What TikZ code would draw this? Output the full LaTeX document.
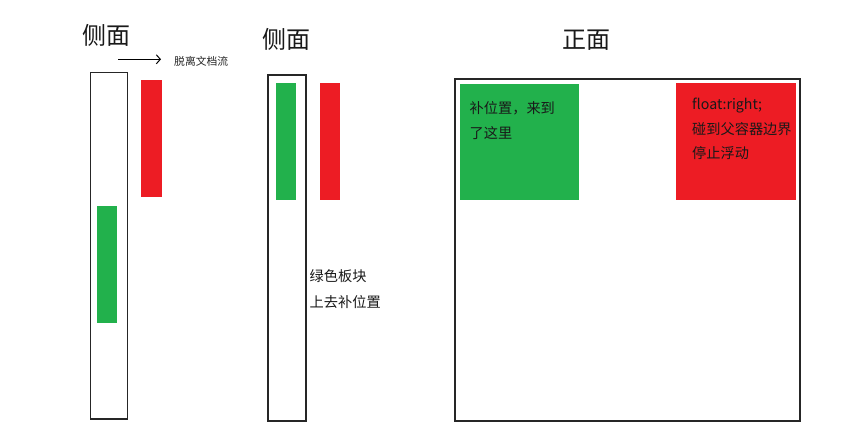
\documentclass[tikz,border=0pt]{standalone}
\usepackage{fontspec}
\usetikzlibrary{arrows.meta}
\newfontfamily\cjk{Noto Sans CJK SC}
\definecolor{pred}{HTML}{ED1C24}
\definecolor{pgreen}{HTML}{22B14C}
\begin{document}
\begin{tikzpicture}[x=1pt,y=-1pt,
  outline/.style={draw=black!85,line width=1.8pt,inner sep=0pt,outer sep=0pt,anchor=north west},
  redblk/.style={fill=pred,draw=none,inner sep=0pt,anchor=north west},
  greenblk/.style={fill=pgreen,draw=none,inner sep=0pt,anchor=north west},
  title/.style={font=\cjk\fontsize{24}{28}\selectfont,inner sep=0pt,anchor=base west,text=black!90},
  label/.style={font=\cjk\fontsize{14.2}{17}\selectfont,inner sep=0pt,anchor=base west,text=black!90},
  small/.style={font=\cjk\fontsize{10.8}{13}\selectfont,inner sep=0pt,anchor=base west,text=black!85}]
\useasboundingbox[fill=white] (0,0) rectangle (851,440);
% left side view
\node[title] (t1) at (82.5,44.4) {侧面};
\coordinate (a1) at (118,59.3);
\coordinate (a2) at (161,59.3);
\draw[-{Straight Barb[length=4pt,width=9pt,line width=1pt]},line width=1pt] (a1) -- (a2);
\node[small] (tl) at (174,65) {脱离文档流};
\node[outline,minimum width=37pt,minimum height=346.5pt] (b1) at (90.5,72.5) {};
\node[redblk,minimum width=20.6pt,minimum height=117.7pt] (r1) at (140.7,79.3) {};
\node[greenblk,minimum width=19.7pt,minimum height=117.4pt] (g1) at (97,205.3) {};
% middle side view
\node[title] (t2) at (262,48.3) {侧面};
\node[outline,minimum width=38pt,minimum height=346pt] (b2) at (268.3,75) {};
\node[greenblk,minimum width=20pt,minimum height=117pt] (g2) at (276,82.3) {};
\node[redblk,minimum width=20.7pt,minimum height=117pt] (r2) at (319.3,82.3) {};
\node[label] (m1) at (309.5,281.4) {绿色板块};
\node[label] (m2) at (309.5,307.7) {上去补位置};
% front view
\node[title] (t3) at (562,48.6) {正面};
\node[outline,minimum width=345.3pt,minimum height=341.7pt] (b3) at (454.7,79.3) {};
\node[greenblk,minimum width=119pt,minimum height=116.7pt] (g3) at (459.3,83.3) {};
\node[redblk,minimum width=120pt,minimum height=117.3pt] (r3) at (676,82.7) {};
\node[label] (gl1) at (469.5,113.7) {补位置，来到};
\node[label] (gl2) at (469.5,138.7) {了这里};
\node[label] (rl1) at (692,109) {float:right;};
\node[label] (rl2) at (692,134.5) {碰到父容器边界};
\node[label] (rl3) at (692,158.8) {停止浮动};
\end{tikzpicture}
\end{document}
